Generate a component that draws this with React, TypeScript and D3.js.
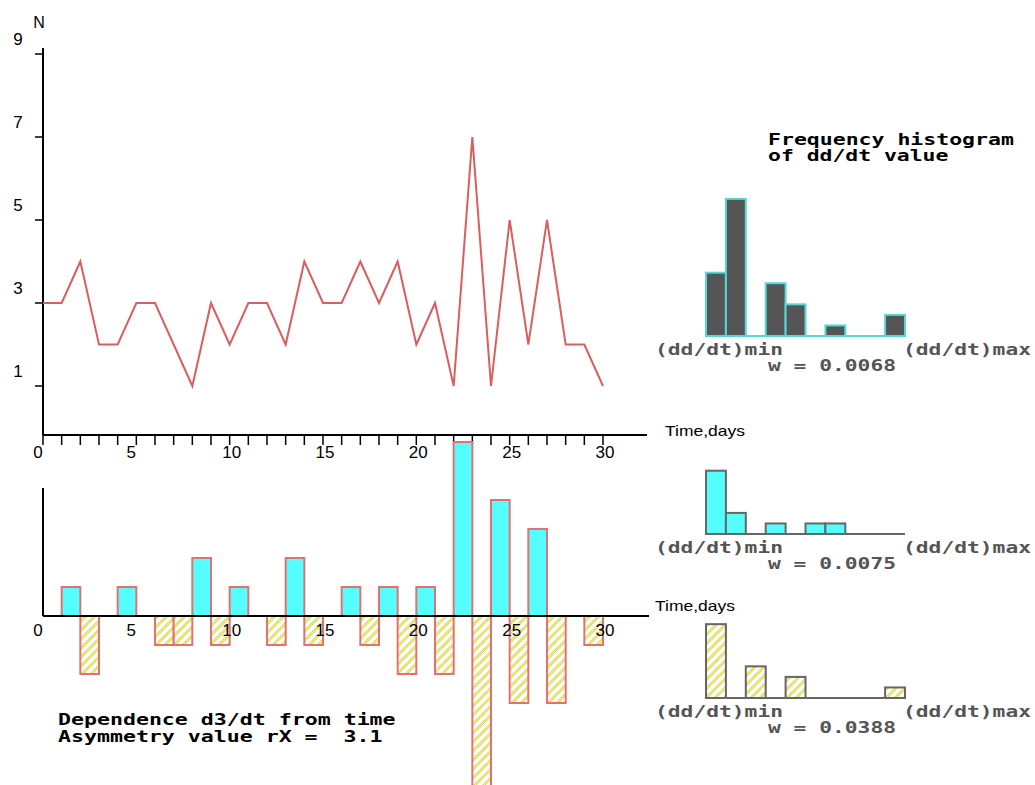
import * as d3 from "d3";

// day indices and the N series (top chart)
const days: number[] = d3.range(0, 31);
const nValues: number[] = [3, 3, 4, 2, 2, 3, 3, 2, 1, 3, 2, 3, 3, 2, 4, 3, 3, 4, 3, 4, 2, 3, 1, 7, 1, 5, 2, 5, 2, 2, 1];
// change per day interval (bottom chart)
const rateValues: number[] = [0, 1, -2, 0, 1, 0, -1, -1, 2, -1, 1, 0, -1, 2, -1, 0, 1, -1, 1, -2, 1, -2, 6, -6, 4, -3, 3, -3, 0, -1];

const xTickLabels: number[] = [0, 5, 10, 15, 20, 25, 30];
const yTickLabels: number[] = [1, 3, 5, 7, 9];

// frequency histograms (10 bins each)
const histAll: number[] = [6, 13, 0, 5, 3, 0, 1, 0, 0, 2];
const histPos: number[] = [6, 2, 0, 1, 0, 1, 1, 0, 0, 0];
const histNeg: number[] = [7, 0, 3, 0, 2, 0, 0, 0, 0, 1];
const wValues: string[] = ["0.0068", "0.0075", "0.0388"];

const CYAN = "#55ffff";
const BAR_EDGE = "#e27272";
const LINE = "#d95f5f";
const GREY_TXT = "#555555";

const x = d3.scaleLinear().domain([0, 30]).range([43, 603]);
const yTop = d3.scaleLinear().domain([0, 9]).range([427.5, 54]);
const yRate = d3.scaleLinear().domain([-6, 6]).range([790, 442]);

const binX = d3.scaleBand<number>().domain(d3.range(10)).range([706, 905]).padding(0);
const histY = d3.scaleLinear().domain([0, 1]).range([0, 10.55]);

function PixText({ x, y, text, fill = "#000" }: { x: number; y: number; text: string; fill?: string }) {
  return (
    <text
      x={x}
      y={y}
      fill={fill}
      fontFamily="'DejaVu Sans Mono', monospace"
      fontWeight="bold"
      fontSize={15}
      textLength={text.length * 13.1 - 3}
      lengthAdjust="spacingAndGlyphs"
      style={{ whiteSpace: "pre" }}
    >
      {text}
    </text>
  );
}

function Histogram({ data, base, fill, stroke, labelY, w }: { data: number[]; base: number; fill: string; stroke: string; labelY: number; w: string }) {
  return (
    <g>
      <line x1={706} x2={905} y1={base} y2={base} stroke={stroke} strokeWidth={2} />
      {data.map((c, i) =>
        c > 0 ? (
          <rect
            key={i}
            x={binX(i)!}
            y={base - histY(c)}
            width={binX.bandwidth()}
            height={histY(c)}
            fill={fill}
            stroke={stroke}
            strokeWidth={2}
          />
        ) : null
      )}
      <PixText x={655} y={labelY} text="(dd/dt)min" fill={GREY_TXT} />
      <PixText x={903} y={labelY} text="(dd/dt)max" fill={GREY_TXT} />
      <PixText x={768} y={labelY + 16} text={`w = ${w}`} fill={GREY_TXT} />
    </g>
  );
}

export default function App() {
  const line = d3
    .line<number>()
    .x((_, i) => x(days[i]))
    .y((d) => yTop(d));

  const axisFont = "'Liberation Sans', Arial, sans-serif";

  return (
    <svg width={1035} height={785} style={{ position: "absolute", left: 0, top: 0, background: "#fff" }}>
      <defs>
        <pattern id="hatch" width={9} height={9} patternUnits="userSpaceOnUse">
          <rect width={9} height={9} fill="#fff" />
          <path d="M-2,11 L11,-2 M-2,2 L2,-2 M7,11 L11,7" stroke="#b8b89a" strokeWidth={2.6} />
          <path d="M-2,11 L11,-2 M-2,2 L2,-2 M7,11 L11,7" stroke="#ffff33" strokeWidth={1.4} />
        </pattern>
      </defs>

      {/* top chart axes */}
      <line x1={43} x2={43} y1={48} y2={435} stroke="#000" strokeWidth={2} />
      <line x1={43} x2={647} y1={435} y2={435} stroke="#000" strokeWidth={2} />
      {yTickLabels.map((t) => (
        <g key={t}>
          <line x1={35} x2={43} y1={yTop(t)} y2={yTop(t)} stroke="#000" strokeWidth={1.5} />
          <text x={18} y={yTop(t) - 9} fontFamily={axisFont} fontSize={17} textAnchor="middle">
            {t}
          </text>
        </g>
      ))}
      <text x={39} y={28} fontFamily={axisFont} fontSize={16} textAnchor="middle">N</text>
      {days.map((d) => (
        <line key={d} x1={x(d)} x2={x(d)} y1={435} y2={445} stroke="#000" strokeWidth={1.5} />
      ))}
      {xTickLabels.map((t) => (
        <text key={t} x={x(t) + (t < 10 ? -5 : 2)} y={458} fontFamily={axisFont} fontSize={17} textAnchor="middle">
          {t}
        </text>
      ))}
      <text x={665} y={436} fontFamily={axisFont} fontSize={15} textLength={80} lengthAdjust="spacingAndGlyphs">Time,days</text>

      <path d={line(nValues) ?? ""} fill="none" stroke={LINE} strokeWidth={2} />

      {/* bottom chart bars */}
      {rateValues.map((v, i) =>
        v === 0 ? null : (
          <rect
            key={i}
            x={x(days[i])}
            y={v > 0 ? yRate(v) : yRate(0)}
            width={x(days[i + 1]) - x(days[i])}
            height={Math.abs(yRate(v) - yRate(0))}
            fill={v > 0 ? CYAN : "url(#hatch)"}
            stroke={BAR_EDGE}
            strokeWidth={2}
          />
        )
      )}
      <line x1={43} x2={43} y1={488} y2={616} stroke="#000" strokeWidth={2} />
      <line x1={43} x2={649} y1={yRate(0)} y2={yRate(0)} stroke="#000" strokeWidth={2} />
      {xTickLabels.map((t) => (
        <text key={t} x={x(t) + (t < 10 ? -5 : 2)} y={636} fontFamily={axisFont} fontSize={17} textAnchor="middle">
          {t}
        </text>
      ))}
      <text x={655} y={611} fontFamily={axisFont} fontSize={15} textLength={80} lengthAdjust="spacingAndGlyphs">Time,days</text>

      <PixText x={58} y={725} text="Dependence d3/dt from time" />
      <PixText x={58} y={742} text="Asymmetry value rX =  3.1" />

      {/* histograms */}
      <PixText x={768} y={145} text="Frequency histogram" />
      <PixText x={768} y={161} text="of dd/dt value" />
      <Histogram data={histAll} base={336} fill="#555555" stroke="#55d8d8" labelY={355} w={wValues[0]} />
      <Histogram data={histPos} base={534} fill={CYAN} stroke="#666666" labelY={553} w={wValues[1]} />
      <Histogram data={histNeg} base={698} fill="url(#hatch)" stroke="#666666" labelY={717} w={wValues[2]} />
    </svg>
  );
}
